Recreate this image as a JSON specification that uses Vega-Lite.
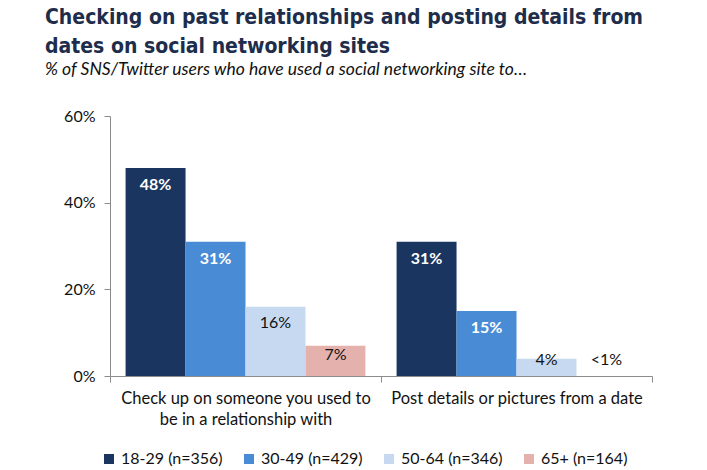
{
  "$schema": "https://vega.github.io/schema/vega-lite/v6.json",
  "width": 542,
  "height": 260,
  "autosize": "none",
  "padding": {"left": 110, "top": 116, "right": 55, "bottom": 94},
  "background": "white",
  "config": {"view": {"stroke": null}},
  "title": {
    "text": ["Checking on past relationships and posting details from", "dates on social networking sites"],
    "subtitle": "% of SNS/Twitter users who have used a social networking site to…",
    "anchor": "start",
    "frame": "group",
    "dx": -65,
    "offset": 30,
    "font": "DejaVu Sans Condensed, Roboto",
    "fontSize": 21,
    "fontWeight": "bold",
    "lineHeight": 29,
    "color": "#1d2d4b",
    "subtitleFont": "Lato",
    "subtitleFontSize": 17.5,
    "subtitleFontStyle": "italic",
    "subtitleColor": "#111111",
    "subtitlePadding": 4
  },
  "data": {
    "values": [
      {"activity": "Check up on someone you used to be in a relationship with", "age": "18-29 (n=356)", "value": 48, "label": "48%"},
      {"activity": "Check up on someone you used to be in a relationship with", "age": "30-49 (n=429)", "value": 31, "label": "31%"},
      {"activity": "Check up on someone you used to be in a relationship with", "age": "50-64 (n=346)", "value": 16, "label": "16%"},
      {"activity": "Check up on someone you used to be in a relationship with", "age": "65+ (n=164)", "value": 7, "label": "7%"},
      {"activity": "Post details or pictures from a date", "age": "18-29 (n=356)", "value": 31, "label": "31%"},
      {"activity": "Post details or pictures from a date", "age": "30-49 (n=429)", "value": 15, "label": "15%"},
      {"activity": "Post details or pictures from a date", "age": "50-64 (n=346)", "value": 4, "label": "4%"},
      {"activity": "Post details or pictures from a date", "age": "65+ (n=164)", "value": 0, "label": "<1%"}
    ]
  },
  "encoding": {
    "x": {
      "field": "activity",
      "type": "nominal",
      "sort": ["Check up on someone you used to be in a relationship with", "Post details or pictures from a date"],
      "scale": {"paddingInner": 0, "paddingOuter": 0},
      "axis": {
        "title": null,
        "labelAngle": 0,
        "domainColor": "#8c8c8c",
        "tickColor": "#8c8c8c",
        "tickBand": "extent",
        "tickSize": 6,
        "labelPadding": 8,
        "labelFont": "Lato",
        "labelFontSize": 16.5,
        "labelColor": "#111111",
        "labelLimit": 400,
        "labelLineHeight": 21,
        "labelExpr": "datum.value == 'Check up on someone you used to be in a relationship with' ? ['Check up on someone you used to', 'be in a relationship with'] : datum.label"
      }
    },
    "xOffset": {
      "field": "age",
      "type": "nominal",
      "sort": ["18-29 (n=356)", "30-49 (n=429)", "50-64 (n=346)", "65+ (n=164)"],
      "scale": {"paddingInner": 0, "paddingOuter": 0.26}
    },
    "y": {
      "field": "value",
      "type": "quantitative",
      "scale": {"domain": [0, 60], "nice": false},
      "axis": {
        "title": null,
        "values": [0, 20, 40, 60],
        "labelExpr": "datum.value + '%'",
        "grid": false,
        "domainColor": "#8c8c8c",
        "tickColor": "#8c8c8c",
        "tickSize": 6,
        "labelPadding": 9,
        "labelFont": "Lato",
        "labelFontSize": 16,
        "labelColor": "#111111"
      }
    }
  },
  "layer": [
    {
      "mark": {"type": "bar"},
      "encoding": {
        "color": {
          "field": "age",
          "type": "nominal",
          "sort": ["18-29 (n=356)", "30-49 (n=429)", "50-64 (n=346)", "65+ (n=164)"],
          "scale": {"domain": ["18-29 (n=356)", "30-49 (n=429)", "50-64 (n=346)", "65+ (n=164)"], "range": ["#1a3560", "#4a8bd6", "#c6d9f0", "#e4b1ad"]},
          "legend": {
            "title": null,
            "orient": "none",
            "legendX": -9,
            "legendY": 335,
            "direction": "horizontal",
            "symbolType": "square",
            "symbolSize": 100,
            "symbolStrokeWidth": 0,
            "labelFont": "Lato",
            "labelFontSize": 16,
            "labelColor": "#111111",
            "labelOffset": 4,
            "columnPadding": 18
          }
        }
      }
    },
    {
      "transform": [{"filter": "datum.age == '18-29 (n=356)' || datum.age == '30-49 (n=429)'"}],
      "mark": {"type": "text", "baseline": "middle", "dy": 17, "color": "white", "font": "Lato", "fontSize": 16, "fontWeight": "bold"},
      "encoding": {"text": {"field": "label"}}
    },
    {
      "transform": [{"filter": "(datum.age == '50-64 (n=346)' || datum.age == '65+ (n=164)') && datum.value >= 10"}],
      "mark": {"type": "text", "baseline": "middle", "dy": 16, "color": "#111111", "font": "Lato", "fontSize": 16},
      "encoding": {"text": {"field": "label"}}
    },
    {
      "transform": [{"filter": "(datum.age == '50-64 (n=346)' || datum.age == '65+ (n=164)') && datum.value >= 5 && datum.value < 10"}],
      "mark": {"type": "text", "baseline": "middle", "dy": 9, "color": "#111111", "font": "Lato", "fontSize": 16},
      "encoding": {"text": {"field": "label"}}
    },
    {
      "transform": [{"filter": "datum.value < 5"}],
      "mark": {"type": "text", "baseline": "middle", "color": "#111111", "font": "Lato", "fontSize": 16},
      "encoding": {"text": {"field": "label"}, "y": {"datum": 3.6}}
    }
  ]
}
